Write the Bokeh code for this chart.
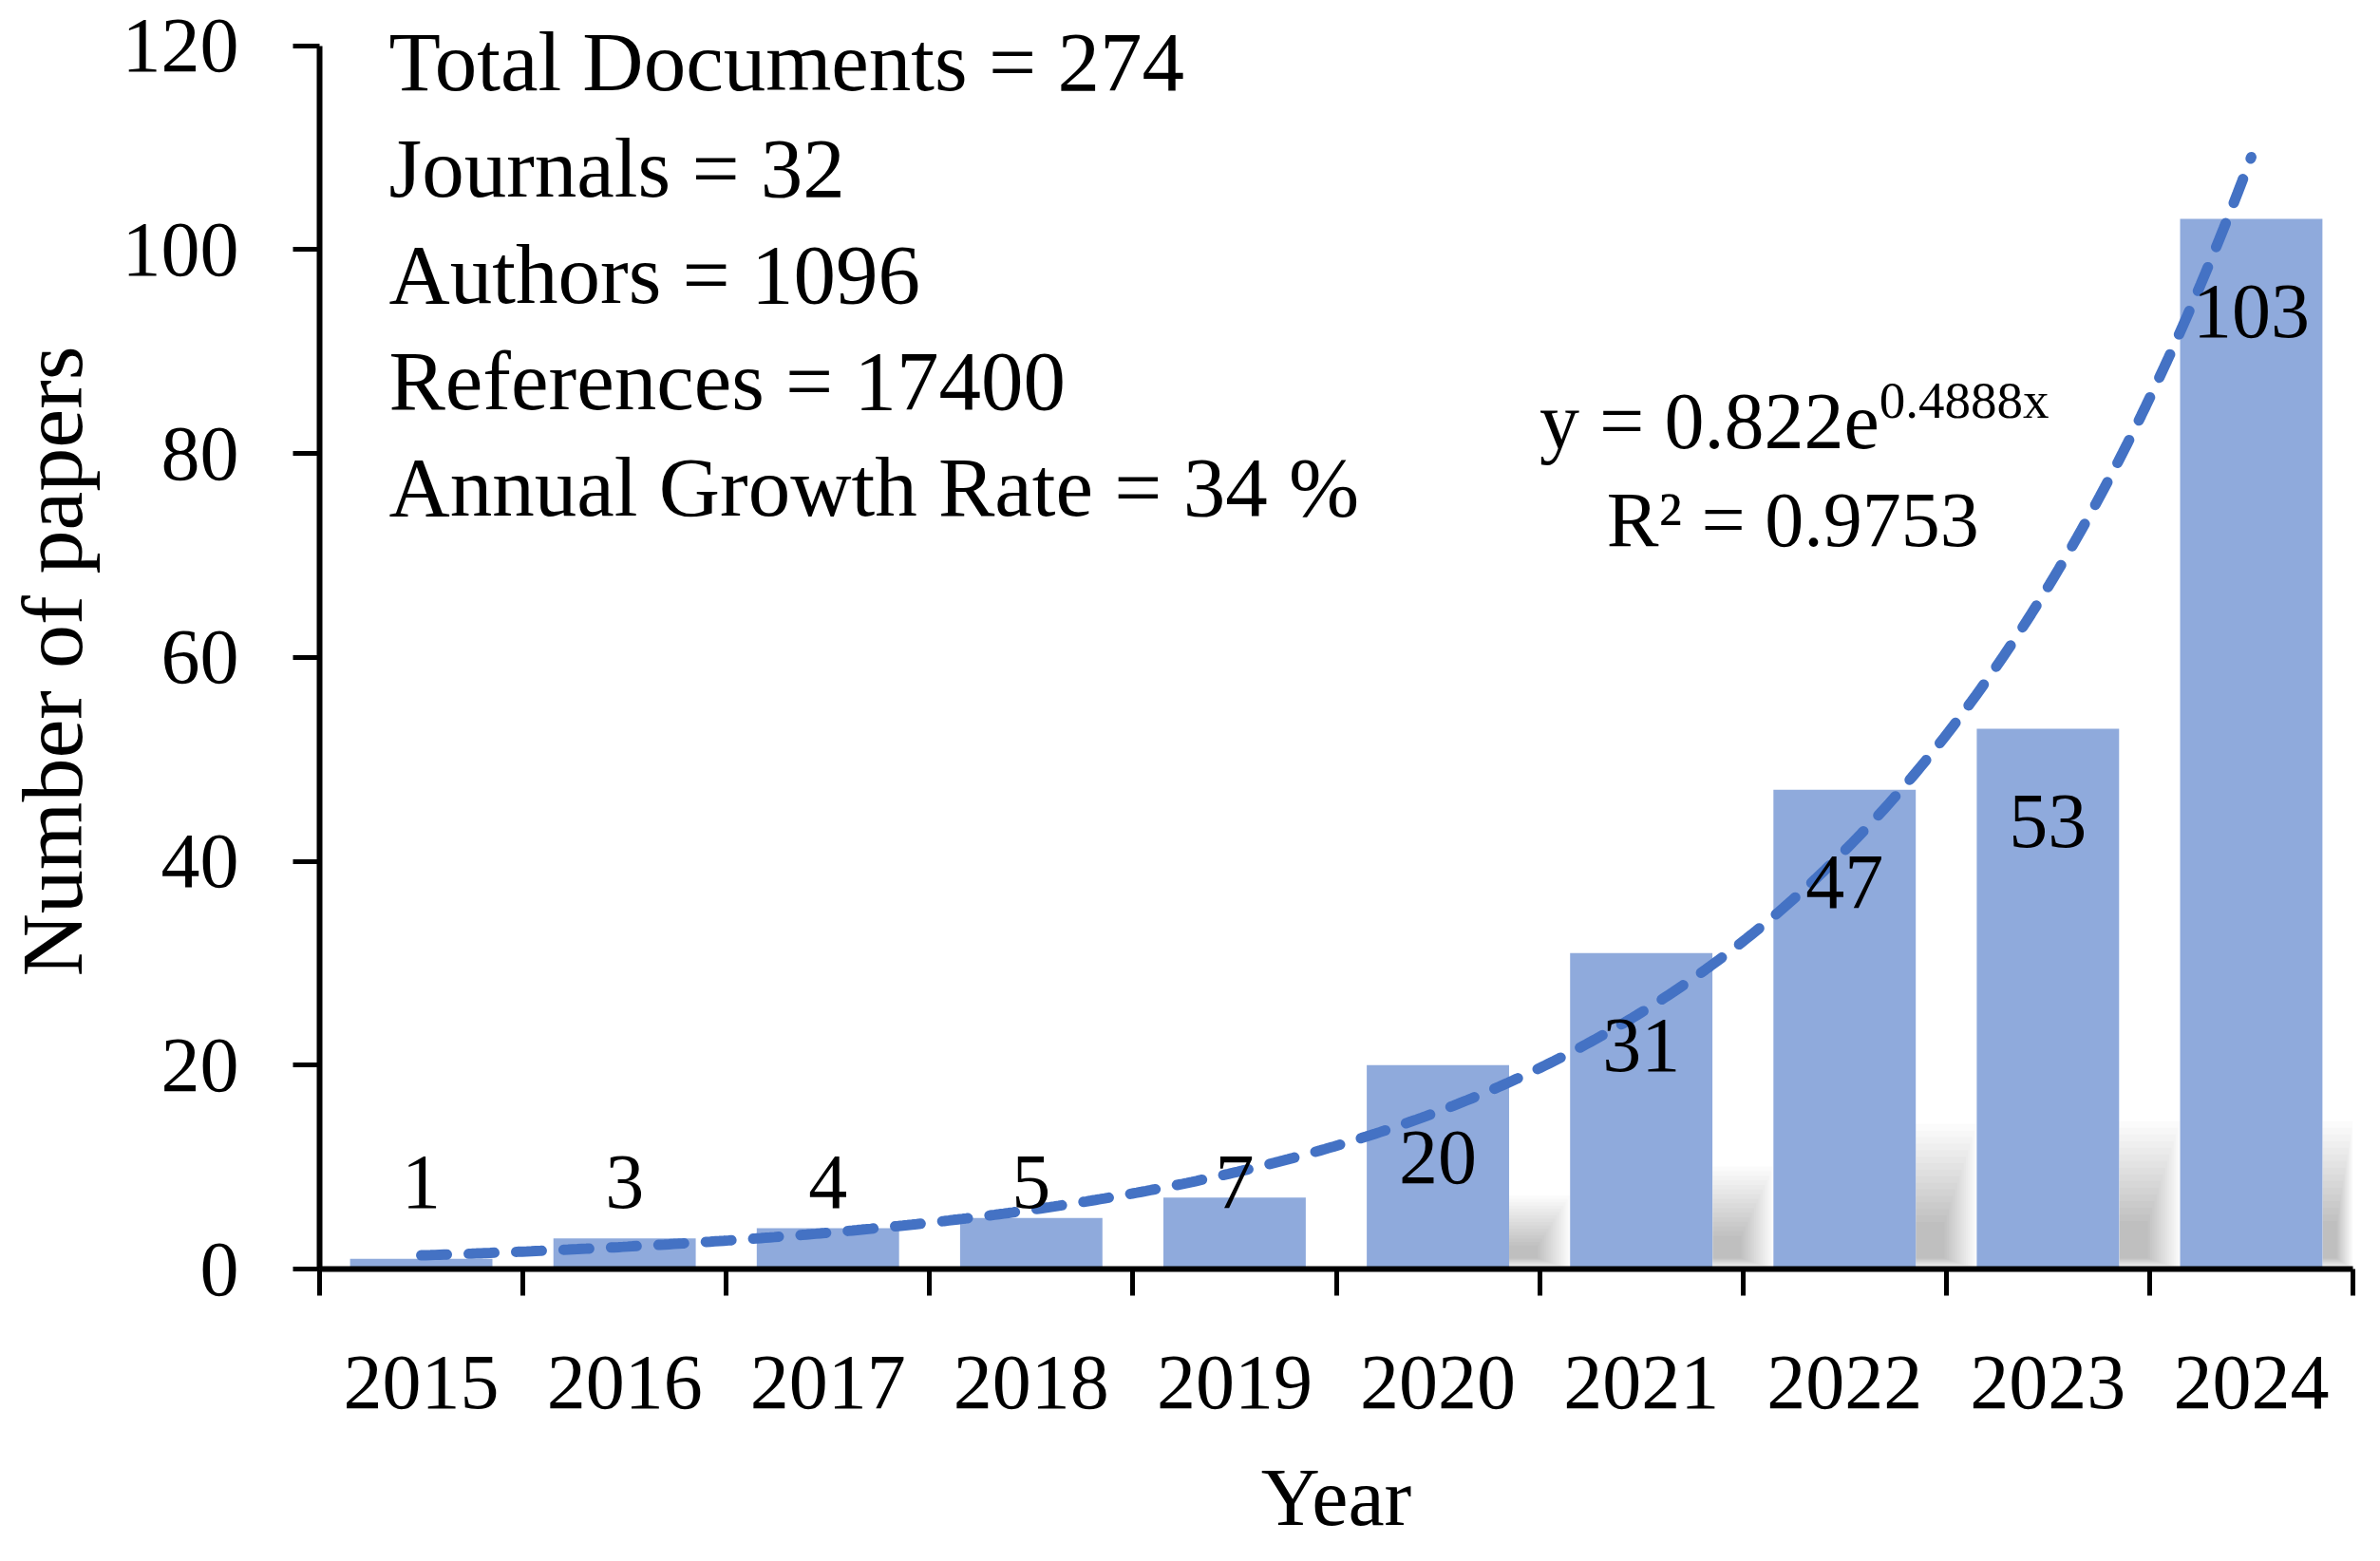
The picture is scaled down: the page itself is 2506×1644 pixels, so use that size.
import numpy as np
from bokeh.plotting import figure
from bokeh.models import FixedTicker, Label, Range1d, ColumnDataSource
from bokeh.core.properties import value
from bokeh.embed import file_html
from bokeh.resources import INLINE

# ---------------- data ----------------
years = ["2015", "2016", "2017", "2018", "2019", "2020", "2021", "2022", "2023", "2024"]
papers = [1, 3, 4, 5, 7, 20, 31, 47, 53, 103]
y_ticks = [0, 20, 40, 60, 80, 100, 120]
info_lines = [
    "Total Documents = 274",
    "Journals = 32",
    "Authors = 1096",
    "References = 17400",
    "Annual Growth Rate = 34 %",
]
fit_a = 0.822
fit_b = 0.4888
eq_main = "y = 0.822e"
eq_exp = "0.4888x"
r2_text = "R\u00b2 = 0.9753"
x_title = "Year"
y_title = "Number of papers"

# ---------------- style ----------------
FONT = "Liberation Serif"
BAR_COLOR = "#8FAADC"
TREND_COLOR = "#4472C4"
BAR_W = 0.70
NUM_FS = "82px"

n = len(years)
xc = [i + 0.5 for i in range(n)]

p = figure(
    width=2490, height=1628,
    x_range=Range1d(0, n), y_range=Range1d(0, 123.5),
    output_backend="svg", toolbar_location=None,
    min_border_left=335, min_border_right=13,
    min_border_top=10, min_border_bottom=292,
)
p.outline_line_color = None
p.xgrid.grid_line_color = None
p.ygrid.grid_line_color = None
p.background_fill_color = "white"
p.border_fill_color = "white"

# soft blurred shadows at the base of the larger bars
for i, v in enumerate(papers):
    if v < 20:
        continue
    h = min(14.5, 2.0 + 0.26 * v)
    left = i + 0.5 + BAR_W / 2
    gap = min(i + 1.5 - BAR_W / 2, n) - left
    for k in range(16):
        p.quad(left=left, right=left + gap * (1 - 0.035 * k),
               bottom=0.07 * k, top=h * (1 - 0.045 * k),
               fill_color="black", fill_alpha=0.0145, line_color=None)

# bars
src = ColumnDataSource(dict(x=xc, top=papers, year=years))
p.vbar(x="x", top="top", width=BAR_W, bottom=0, source=src,
       fill_color=BAR_COLOR, line_color=None)

# exponential trendline drawn from the fitted coefficients shown on the chart
tx = np.linspace(1, n, 400)
ty = fit_a * np.exp(fit_b * tx)
p.line(tx - 0.5, ty, line_color=TREND_COLOR, line_width=11,
       line_dash="27 23", line_cap="round")

# value labels
lab_y = [v - 9.05 if v >= 20 else 8.5 for v in papers]
p.text(x=xc, y=lab_y, text=[str(v) for v in papers],
       text_font=value(FONT), text_font_size=NUM_FS,
       text_align="center", text_baseline="middle", text_color="black")

# x axis: labels centred in categories, ticks on category boundaries
xa = p.xaxis[0]
xa.ticker = FixedTicker(ticks=xc, minor_ticks=list(range(n + 1)))
xa.major_label_overrides = {x: y for x, y in zip(xc, years)}
xa.major_tick_line_color = None
xa.major_tick_out = 28
xa.major_tick_in = 0
xa.minor_tick_line_color = "black"
xa.minor_tick_line_width = 5
xa.minor_tick_out = 28
xa.minor_tick_in = 0
xa.axis_line_width = 6
xa.axis_line_color = "black"
xa.major_label_text_font = FONT
xa.major_label_text_font_size = NUM_FS
xa.major_label_text_color = "black"
xa.major_label_standoff = 64
xa.axis_label = x_title
xa.axis_label_text_font = FONT
xa.axis_label_text_font_size = "86px"
xa.axis_label_text_font_style = "normal"
xa.axis_label_text_color = "black"
xa.axis_label_standoff = 43

ya = p.yaxis[0]
ya.ticker = FixedTicker(ticks=y_ticks, minor_ticks=[])
ya.bounds = (0, 120)
ya.major_tick_line_color = "black"
ya.major_tick_line_width = 5
ya.major_tick_out = 28
ya.major_tick_in = 0
ya.minor_tick_line_color = None
ya.axis_line_width = 6
ya.axis_line_color = "black"
ya.major_label_text_font = FONT
ya.major_label_text_font_size = NUM_FS
ya.major_label_text_color = "black"
ya.major_label_standoff = 57
# two trailing no-break spaces centre the title on the 0-120 span of the axis
ya.axis_label = y_title + "\u00a0\u00a0"
ya.axis_label_text_font = FONT
ya.axis_label_text_font_size = "92px"
ya.axis_label_text_font_style = "normal"
ya.axis_label_text_color = "black"
ya.axis_label_standoff = 20

# info block (left, top)
for k, t in enumerate(info_lines):
    p.add_layout(Label(x=0.341, y=118.46 - 10.44 * k, text=t,
                       text_font=FONT, text_font_size="89px",
                       text_baseline="middle", text_align="left",
                       text_color="black"))

# trendline equation
p.add_layout(Label(x=6.0, y=83.2, text=eq_main, text_font=FONT,
                   text_font_size="84px", text_baseline="middle", text_color="black"))
p.add_layout(Label(x=7.67, y=85.2, text=eq_exp, text_font=FONT,
                   text_font_size="55px", text_baseline="middle", text_color="black"))
p.add_layout(Label(x=6.33, y=73.46, text=r2_text, text_font=FONT,
                   text_font_size="82px", text_baseline="middle", text_color="black"))

open("out.html", "w").write(file_html(p, INLINE))
